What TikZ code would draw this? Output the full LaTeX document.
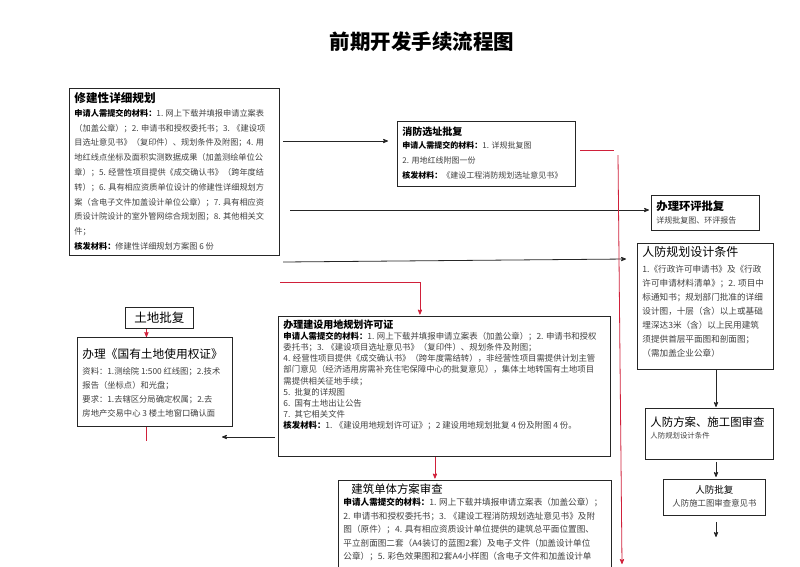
\documentclass[tikz,border=0pt]{standalone}
\usepackage{fontspec}
\setmainfont{Noto Sans CJK SC}
\usetikzlibrary{arrows}
\definecolor{lred}{HTML}{D0203A}
\newcommand{\sq}{\textbf{\color{black}申请人需提交的材料：}}
\newcommand{\hf}{\textbf{\color{black}核发材料：}}
\newcommand{\hd}[2]{{\fontsize{#1}{#1}\selectfont\bfseries\color{black}#2}}
\newcommand{\hr}[2]{{\fontsize{#1}{#1}\selectfont\color{black}#2}}
\newcommand{\boxtxt}[3]{\parbox[b][#2][t]{#1}{#3}}

\begin{document}
\begin{tikzpicture}[x=1pt,y=-1pt,>=stealth',
  flow box/.style={draw=black!85,line width=0.9pt,anchor=north west,
    inner xsep=5pt,inner ysep=3pt,text=black!75},
  arr/.style={->,draw=black!85,line width=0.8pt},
  red line/.style={draw=lred,line width=0.8pt}]
  \useasboundingbox (0,0) rectangle (800,566);
  \clip (0,0) rectangle (800,566);
  \node[font=\fontsize{20.5}{20.5}\selectfont\bfseries] (title) at (422,42) {前期开发手续流程图};
  % left column
  \node[flow box,font=\fontsize{8.2}{14.8}\selectfont] (xj) at (69,88) {\boxtxt{200pt}{161pt}{%
    \vspace*{1pt}\hd{11.6}{修建性详细规划}\\[-1pt]
    \sq 1. 网上下载并填报申请立案表\\
    （加盖公章）；2. 申请书和授权委托书；3. 《建设项\\
    目选址意见书》（复印件）、规划条件及附图；4. 用\\
    地红线点坐标及面积实测数据成果（加盖测绘单位公\\
    章）；5. 经营性项目提供《成交确认书》（跨年度结\\
    转）；6. 具有相应资质单位设计的修建性详细规划方\\
    案（含电子文件加盖设计单位公章）；7. 具有相应资\\
    质设计院设计的室外管网综合规划图；8. 其他相关文\\
    件；\\
    \hf 修建性详细规划方案图 6 份}};
  \node[flow box,minimum width=68pt,minimum height=21pt,inner sep=0pt,
    text=black,font=\fontsize{12.5}{12.5}\selectfont] (td) at (125,307) {土地批复};
  \node[flow box,font=\fontsize{8.3}{14}\selectfont] (tz) at (77,337) {\boxtxt{145pt}{83pt}{%
    \vspace*{8pt}\hr{11.7}{办理《国有土地使用权证》}\\[2pt]
    资料：1.测绘院 1:500 红线图；2.技术\\
    报告（坐标点）和光盘；\\
    要求：1.去辖区分局确定权属；2.去\\
    房地产交易中心 3 楼土地窗口确认面}};
  % middle column
  \node[flow box,font=\fontsize{8}{15}\selectfont] (xf) at (397,121) {\boxtxt{168pt}{59pt}{%
    \vspace*{2pt}\hd{10}{消防选址批复}\\[-2pt]
    \sq 1. 详规批复图\\
    2. 用地红线附图一份\\
    \hf 《建设工程消防规划选址意见书》}};
  \node[flow box,font=\fontsize{8.4}{11.2}\selectfont] (yd) at (278,316) {\boxtxt{322pt}{134pt}{%
    \hd{10}{办理建设用地规划许可证}\\
    \sq 1. 网上下载并填报申请立案表（加盖公章）；2. 申请书和授权\\
    委托书；3. 《建设项目选址意见书》（复印件）、规划条件及附图；\\
    4. 经营性项目提供《成交确认书》（跨年度需结转），非经营性项目需提供计划主管\\
    部门意见（经济适用房需补充住宅保障中心的批复意见），集体土地转国有土地项目\\
    需提供相关征地手续；\\
    5.\enspace 批复的详规图\\
    6.\enspace 国有土地出让公告\\
    7.\enspace 其它相关文件\\
    \hf 1. 《建设用地规划许可证》；2 建设用地规划批复 4 份及附图 4 份。}};
  \node[flow box,font=\fontsize{8.6}{13.5}\selectfont] (dt) at (338,480) {\boxtxt{263pt}{103pt}{%
    \hspace*{8pt}\hr{11.4}{建筑单体方案审查}\\[-1pt]
    \sq 1. 网上下载并填报申请立案表（加盖公章）；\\
    2. 申请书和授权委托书；3. 《建设工程消防规划选址意见书》及附\\
    图（原件）；4. 具有相应资质设计单位提供的建筑总平面位置图、\\
    平立剖面图二套（A4装订的蓝图2套）及电子文件（加盖设计单位\\
    公章）；5. 彩色效果图和2套A4小样图（含电子文件和加盖设计单}};
  % right column
  \node[flow box,font=\fontsize{8}{13}\selectfont] (hp) at (651,195) {\boxtxt{98pt}{29pt}{%
    \vspace*{2.5pt}\hd{11.3}{办理环评批复}\\
    详规批复图、环评报告}};
  \node[flow box,font=\fontsize{8.6}{14}\selectfont] (rg) at (637,243) {\boxtxt{126pt}{120pt}{%
    \hr{12}{人防规划设计条件}\\[2pt]
    1.《行政许可申请书》及《行政\\
    许可申请材料清单》；2. 项目中\\
    标通知书；规划部门批准的详细\\
    设计图，十层（含）以上或基础\\
    埋深达3米（含）以上民用建筑\\
    须提供首层平面图和剖面图；\\
    （需加盖企业公章）}};
  \node[flow box,font=\fontsize{7.4}{12}\selectfont] (rf) at (645,408) {\boxtxt{118pt}{45pt}{%
    \vspace*{5pt}\hr{11.4}{人防方案、施工图审查}\\
    人防规划设计条件}};
  \node[flow box,font=\fontsize{8.4}{13.5}\selectfont] (rp) at (663,479) {\boxtxt{92pt}{30pt}{%
    \centering\vspace*{3pt}\hr{9.5}{人防批复}\\
    人防施工图审查意见书}};
  % connectors
  \coordinate (a1) at (283,141);
  \coordinate (a2) at (290,210);
  \coordinate (a3) at (283,262);
  \coordinate (d1) at (626,259);
  \coordinate (cx) at (716,0);
  \coordinate (j1) at (716,537);
  \coordinate (g1) at (222,437);
  \coordinate (f1) at (146,441);
  \path (a1) edge[arr,shorten >=9pt] (a1 -| xf.west)
        (a2) edge[arr,shorten >=2pt] (a2 -| hp.west)
        (a3) edge[arr] (d1)
        (rg.south -| cx) edge[arr,shorten >=1pt] (rf.north -| cx)
        (rf.south -| cx) edge[arr,shorten <=2pt,shorten >=2pt] (rp.north -| cx)
        (rp.south -| cx) edge[arr,shorten <=6pt] (j1)
        ([xshift=-3pt]yd.west |- g1) edge[arr] (g1);
  \coordinate (b1) at (580,150);
  \coordinate (b2) at (614,150);
  \coordinate (v1) at (618,155);
  \coordinate (v2) at (622,564);
  \coordinate (r1) at (280,282);
  \draw[red line] (b1) -- (b2);
  \draw[red line,->] (v1) -- (v2);
  \draw[red line,->,shorten >=1.5pt] (r1) -| ([xshift=-24.5pt]yd.north);
  \draw[red line,->,shorten >=1.5pt] ([xshift=-9.5pt]yd.south) -- ([xshift=-9.5pt]yd.south |- dt.north);
  \draw[red line,->] ([xshift=-13pt]td.south) -- ([xshift=-13pt]td.south |- tz.north);
  \draw[red line] (tz.south -| f1) -- (f1);
\end{tikzpicture}
\end{document}
